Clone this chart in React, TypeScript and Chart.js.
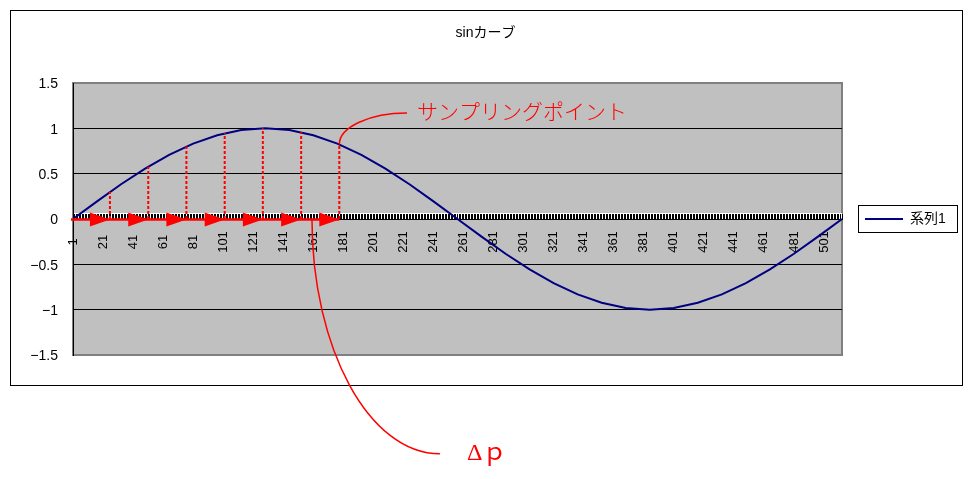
import React, { useEffect, useRef } from 'react';
import { Chart, registerables } from 'chart.js';

Chart.register(...registerables);

// ---- data ----
const chartTitle = 'sinカーブ';
const seriesName = '系列1';

// category indices along the horizontal axis (one tick mark each)
const xCategories = Array.from({ length: 513 }, (_, i) => i + 1);
const xTickLabels = [
  '1', '21', '41', '61', '81', '101', '121', '141', '161', '181', '201', '221', '241',
  '261', '281', '301', '321', '341', '361', '381', '401', '421', '441', '461', '481', '501',
];

// points of the curve (category index, value)
const curveX = [
  1, 17, 33, 49, 65, 81, 97, 113, 129, 145, 161, 177, 193, 209, 225, 241, 257,
  273, 289, 305, 321, 337, 353, 369, 385, 401, 417, 433, 449, 465, 481, 497, 513,
];
const curveY = [
  0, 0.195, 0.383, 0.556, 0.707, 0.831, 0.924, 0.981, 1, 0.981, 0.924, 0.831, 0.707, 0.556, 0.383, 0.195, 0,
  -0.195, -0.383, -0.556, -0.707, -0.831, -0.924, -0.981, -1, -0.981, -0.924, -0.831, -0.707, -0.556, -0.383, -0.195, 0,
];

const yTickValues = [-1.5, -1, -0.5, 0, 0.5, 1, 1.5];
const yTickLabels = ['−1.5', '−1', '−0.5', '0', '0.5', '1', '1.5'];

// sampling points marked on the curve
const samplingX = [25.6, 51.1, 76.5, 102, 127.4, 152.9, 178.3];
const samplingY = [0.297, 0.577, 0.8, 0.946, 1, 0.957, 0.823];

// callouts (data coordinates)
const samplingLabel = 'サンプリングポイント';
const samplingCalloutEnd = { x: 223.4, y: 1.169 };
const samplingLabelAt = { x: 230, y: 1.19 };
const deltaLabel = 'Δｐ';
const deltaCalloutStart = { x: 160.1, y: 0 };
const deltaCalloutEnd = { x: 245.3, y: -2.59 };
const deltaLabelAt = { x: 263.3, y: -2.59 };

const SANS = '"Liberation Sans", "Noto Sans CJK JP", sans-serif';
const RED = '#ff0000';

// quarter-ellipse style connector: leaves the start point vertically, arrives horizontally
function callout(ctx: CanvasRenderingContext2D, x0: number, y0: number, x1: number, y1: number) {
  const k = 0.552;
  ctx.beginPath();
  ctx.moveTo(x0, y0);
  ctx.bezierCurveTo(x0, y0 + (y1 - y0) * k, x1 - (x1 - x0) * k, y1, x1, y1);
  ctx.stroke();
}

const framePlugin = {
  id: 'excelFrame',
  beforeDraw(chart: any) {
    const { ctx, chartArea: a } = chart;
    ctx.save();
    ctx.fillStyle = '#ffffff';
    ctx.fillRect(0, 0, chart.width, chart.height);
    ctx.strokeStyle = '#000000';
    ctx.lineWidth = 1;
    ctx.strokeRect(10.5, 10.5, 952, 375);
    // plot area
    ctx.fillStyle = '#c0c0c0';
    ctx.fillRect(a.left, a.top, a.right - a.left, a.bottom - a.top);
    ctx.strokeStyle = '#808080';
    ctx.lineWidth = 2;
    ctx.strokeRect(a.left, a.top, a.right - a.left, a.bottom - a.top);
    // light band behind the category tick marks
    const y0 = chart.scales.y.getPixelForValue(0);
    ctx.fillStyle = '#ffffff';
    ctx.fillRect(a.left, y0 - 6, a.right - a.left, 6);
    ctx.restore();
  },
  beforeDatasetsDraw(chart: any) {
    const { ctx } = chart;
    const xs = chart.scales.x;
    const y0 = chart.scales.y.getPixelForValue(0);
    ctx.save();
    ctx.fillStyle = '#000000';
    ctx.font = '13px ' + SANS;
    ctx.textAlign = 'center';
    ctx.textBaseline = 'middle';
    xTickLabels.forEach((label) => {
      const x = xs.getPixelForValue(Number(label));
      ctx.save();
      ctx.translate(x, y0 + 23);
      ctx.rotate(-Math.PI / 2);
      ctx.fillText(label, 0, 0);
      ctx.restore();
    });
    ctx.restore();
  },
  afterDraw(chart: any) {
    const { ctx } = chart;
    const xs = chart.scales.x;
    const ys = chart.scales.y;
    const px = (v: number) => xs.getPixelForValue(v);
    const py = (v: number) => ys.getPixelForValue(v);
    const y0 = py(0);
    ctx.save();
    ctx.strokeStyle = RED;
    ctx.fillStyle = RED;

    // dashed drop lines from the sampled values
    ctx.lineWidth = 2;
    ctx.setLineDash([3, 2]);
    samplingX.forEach((sx, i) => {
      ctx.beginPath();
      ctx.moveTo(px(sx), y0);
      ctx.lineTo(px(sx), py(samplingY[i]));
      ctx.stroke();
    });
    ctx.setLineDash([]);

    // arrows between sampling points along the axis
    ctx.lineWidth = 2.5;
    ctx.beginPath();
    ctx.moveTo(px(xCategories[0]) - 2, y0 + 0.5);
    ctx.lineTo(px(samplingX[samplingX.length - 1]), y0 + 0.5);
    ctx.stroke();
    samplingX.forEach((sx) => {
      const tip = px(sx);
      ctx.beginPath();
      ctx.moveTo(tip, y0 + 0.5);
      ctx.lineTo(tip - 20, y0 - 6.5);
      ctx.lineTo(tip - 20, y0 + 7.5);
      ctx.closePath();
      ctx.fill();
    });

    // callouts
    ctx.lineWidth = 1.5;
    const last = samplingX.length - 1;
    callout(ctx, px(samplingX[last]), py(samplingY[last]), px(samplingCalloutEnd.x), py(samplingCalloutEnd.y));
    callout(ctx, px(deltaCalloutStart.x), py(deltaCalloutStart.y), px(deltaCalloutEnd.x), py(deltaCalloutEnd.y));

    ctx.textAlign = 'left';
    ctx.textBaseline = 'middle';
    ctx.font = '300 21px "Noto Sans CJK JP", sans-serif';
    ctx.fillText(samplingLabel, px(samplingLabelAt.x), py(samplingLabelAt.y));
    ctx.font = '24px "Liberation Serif", "Noto Sans CJK JP", serif';
    ctx.fillText(deltaLabel, px(deltaLabelAt.x), py(deltaLabelAt.y));

    // legend frame
    const hb = chart.legend && chart.legend.legendHitBoxes && chart.legend.legendHitBoxes[0];
    if (hb) {
      ctx.strokeStyle = '#000000';
      ctx.lineWidth = 1;
      ctx.strokeRect(Math.round(hb.left - 7) + 0.5, Math.round(hb.top - 7) + 0.5, Math.round(hb.width + 18), 27);
    }
    ctx.restore();
  },
};

export default function App() {
  const canvasRef = useRef<HTMLCanvasElement>(null);

  useEffect(() => {
    const canvas = canvasRef.current;
    if (!canvas) return;
    const chart = new Chart(canvas, {
      type: 'line',
      data: {
        datasets: [
          {
            label: seriesName,
            data: curveX.map((x, i) => ({ x, y: curveY[i] })),
            borderColor: '#000080',
            backgroundColor: '#000080',
            borderWidth: 2,
            pointRadius: 0,
            tension: 0,
            fill: false,
          },
        ],
      },
      options: {
        responsive: false,
        animation: false,
        devicePixelRatio: 1,
        layout: { padding: { left: 19, top: 10, right: 25, bottom: 124 } },
        scales: {
          x: {
            type: 'linear',
            min: 1,
            max: 513,
            position: { y: 0 },
            afterBuildTicks: (s: any) => {
              s.ticks = xCategories.map((v) => ({ value: v }));
            },
            afterFit: (s: any) => {
              s.height = 0;
              s.paddingLeft = 0;
              s.paddingRight = 0;
            },
            ticks: { display: false },
            grid: {
              drawOnChartArea: false,
              drawTicks: true,
              tickLength: -6,
              tickColor: '#000000',
              tickWidth: 1,
            },
            border: { display: true, color: '#000000', width: 1 },
          },
          y: {
            type: 'linear',
            min: -1.5,
            max: 1.5,
            afterBuildTicks: (s: any) => {
              s.ticks = yTickValues.map((v) => ({ value: v }));
            },
            afterFit: (s: any) => {
              s.width = 54;
              s.paddingTop = 0;
              s.paddingBottom = 0;
            },
            ticks: {
              padding: 15,
              labelOffset: 1.5,
              color: '#000000',
              font: { family: SANS, size: 14 },
              callback: (v: any) => yTickLabels[yTickValues.indexOf(Number(v))],
            },
            grid: {
              drawTicks: false,
              lineWidth: 1,
              color: (c: any) => (Math.abs(c.tick.value) === 1.5 ? 'rgba(0,0,0,0)' : '#000000'),
            },
            border: { display: true, color: '#000000', width: 1 },
          },
        },
        plugins: {
          title: {
            display: true,
            text: chartTitle,
            color: '#000000',
            font: { family: SANS, size: 14, weight: 'normal' },
            padding: { top: 15, bottom: 41.2 },
          },
          legend: {
            display: true,
            position: 'right',
            fullSize: false,
            maxWidth: 110,
            labels: {
              usePointStyle: true,
              pointStyle: 'line',
              pointStyleWidth: 38,
              padding: 23,
              color: '#000000',
              font: { family: SANS, size: 14 },
            },
          },
          tooltip: { enabled: false },
        },
      } as any,
      plugins: [framePlugin],
    });
    return () => chart.destroy();
  }, []);

  return (
    <div style={{ position: 'fixed', left: 0, top: 0, width: 977, height: 479, background: '#ffffff' }}>
      <canvas ref={canvasRef} width={977} height={479} style={{ display: 'block' }} />
    </div>
  );
}
